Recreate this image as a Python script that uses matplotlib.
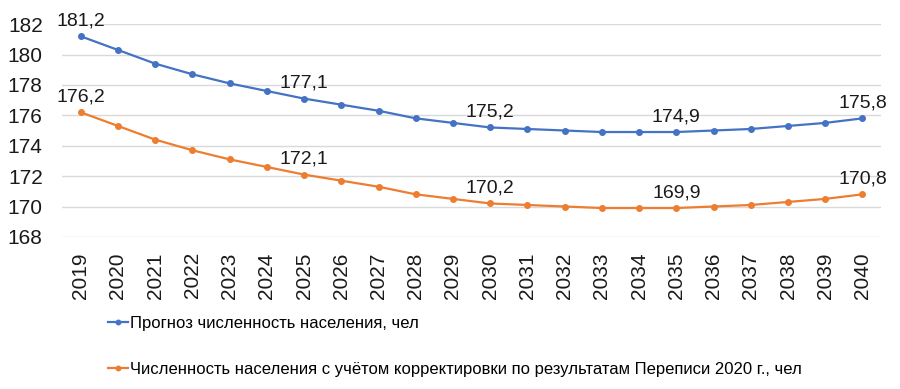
import matplotlib.pyplot as plt

# chart data
years = [str(y) for y in range(2019, 2041)]
forecast = [181.2, 180.3, 179.4, 178.7, 178.1, 177.6, 177.1, 176.7, 176.3, 175.8, 175.5,
            175.2, 175.1, 175.0, 174.9, 174.9, 174.9, 175.0, 175.1, 175.3, 175.5, 175.8]
corrected = [176.2, 175.3, 174.4, 173.7, 173.1, 172.6, 172.1, 171.7, 171.3, 170.8, 170.5,
             170.2, 170.1, 170.0, 169.9, 169.9, 169.9, 170.0, 170.1, 170.3, 170.5, 170.8]
labeled_years = ['2019', '2025', '2030', '2035', '2040']
name_forecast = 'Прогноз численность населения, чел'
name_corrected = 'Численность населения с учётом корректировки по результатам Переписи 2020 г., чел'
y_ticks = [168, 170, 172, 174, 176, 178, 180, 182]

plt.rcParams['font.family'] = ['Liberation Sans', 'DejaVu Sans']

fig = plt.figure(figsize=(9, 3.89), dpi=100)
ax = fig.add_axes([0.069, 0.391, 0.91, 0.547])

blue = '#4472C4'
orange = '#ED7D31'
x = range(len(years))
ax.plot(x, forecast, color=blue, lw=1.6, marker='o', ms=4, label=name_forecast)
ax.plot(x, corrected, color=orange, lw=1.6, marker='o', ms=4, label=name_corrected)

# value labels above selected points
for series in (forecast, corrected):
    for yr in labeled_years:
        i = years.index(yr)
        ax.annotate(f"{series[i]:.1f}".replace('.', ','), (i, series[i]),
                    xytext=(0, 5), textcoords='offset points',
                    ha='center', va='bottom', fontsize=14, color='#1a1a1a')

ax.set_xlim(-0.5, len(years) - 0.5)
ax.set_ylim(168, 182)
ax.set_yticks(y_ticks)
ax.set_xticks(list(x))
ax.set_xticklabels(years, rotation=90)
ax.tick_params(axis='y', length=0, pad=14, labelsize=15, labelcolor='#1a1a1a')
ax.tick_params(axis='x', length=0, pad=11, labelsize=15, labelcolor='#1a1a1a')
ax.grid(axis='y', color='#D9D9D9', lw=1)
ax.set_axisbelow(True)
for s in ax.spines.values():
    s.set_visible(False)

fig.legend(loc='upper left', bbox_to_anchor=(0.12, 0.187), frameon=False,
           prop={'size': 12}, handlelength=1.2, markerscale=0.8,
           handletextpad=0.15, labelspacing=1.85, borderaxespad=0, borderpad=0)

fig.savefig('out.png', dpi=100)
